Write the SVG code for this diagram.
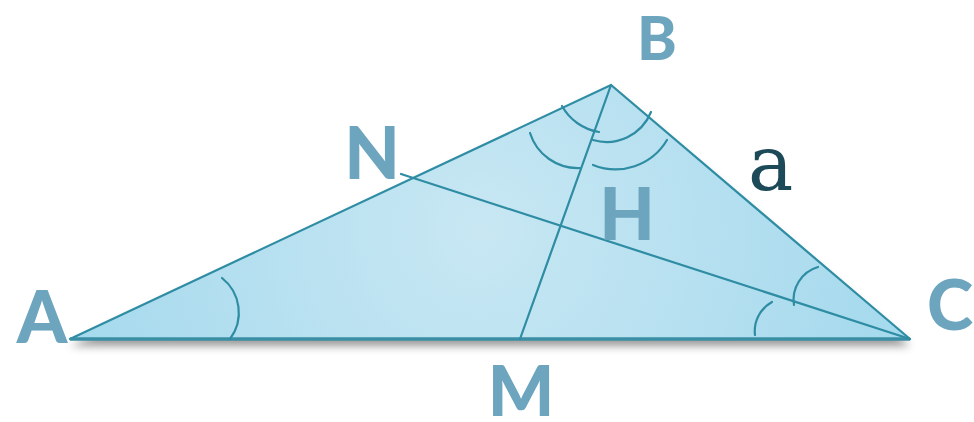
<svg xmlns="http://www.w3.org/2000/svg" width="974" height="422" viewBox="0 0 974 422">
  <defs>
    <radialGradient id="fill" cx="480" cy="230" r="440" gradientUnits="userSpaceOnUse">
      <stop offset="0" stop-color="#c8e7f3"/>
      <stop offset="1" stop-color="#a4d9ed"/>
    </radialGradient>
    <filter id="shadow" x="-10%" y="-10%" width="120%" height="130%">
      <feDropShadow dx="0" dy="7" stdDeviation="4" flood-color="#000" flood-opacity="0.4"/>
    </filter>
  </defs>
  <style>
    .edge{fill:none;stroke:#2e8ca3;stroke-width:2.2;stroke-linecap:round}
    .arc{fill:none;stroke:#2e8ca3;stroke-width:2.2;stroke-linecap:round}
    .lbl{font-family:Lato,"Liberation Sans",sans-serif;font-weight:900;fill:#6ca5bd;text-anchor:middle}
    .side{font-family:"DejaVu Serif",serif;fill:#1d4a59}
  </style>
  <g id="triangle">
    <polygon points="70,339 611,85 910,339" fill="url(#fill)" filter="url(#shadow)"/>
    <polyline class="edge" points="70,339 611,85 910,339"/>
    <line x1="70" y1="339" x2="910" y2="339" stroke="#3a8fa5" stroke-width="3.5"/>
  </g>
  <g id="connectors">
    <line class="edge" x1="611" y1="85" x2="520" y2="339"/>
    <line class="edge" x1="910" y1="339" x2="401" y2="174"/>
  </g>
  <g id="angles">
    <path class="arc" d="M562,106 A52,52 0 0 0 599,132"/>
    <path class="arc" d="M593,140 A48,48 0 0 0 651,112"/>
    <path class="arc" d="M530,133 A50,50 0 0 0 580,168"/>
    <path class="arc" d="M593,165 A60,60 0 0 0 667,140"/>
    <path class="arc" d="M222,278 A44,44 0 0 1 230,339"/>
    <path class="arc" d="M818,267 A34,34 0 0 0 794,305"/>
    <path class="arc" d="M772,302 A33,33 0 0 0 755,335"/>
  </g>
  <g id="labels">
    <text id="lblA" class="lbl" x="42" y="343" font-size="72">A</text>
    <text id="lblB" class="lbl" x="657" y="60" font-size="60">B</text>
    <text id="lblC" class="lbl" x="950" y="330" font-size="70">C</text>
    <text id="lblN" class="lbl" x="372" y="179" font-size="72">N</text>
    <text id="lblH" class="lbl" x="627" y="240" font-size="72">H</text>
    <text id="lblM" class="lbl" x="521" y="416" font-size="70">M</text>
    <text id="lbla" class="side" x="748" y="190" font-size="76">a</text>
  </g>
</svg>
